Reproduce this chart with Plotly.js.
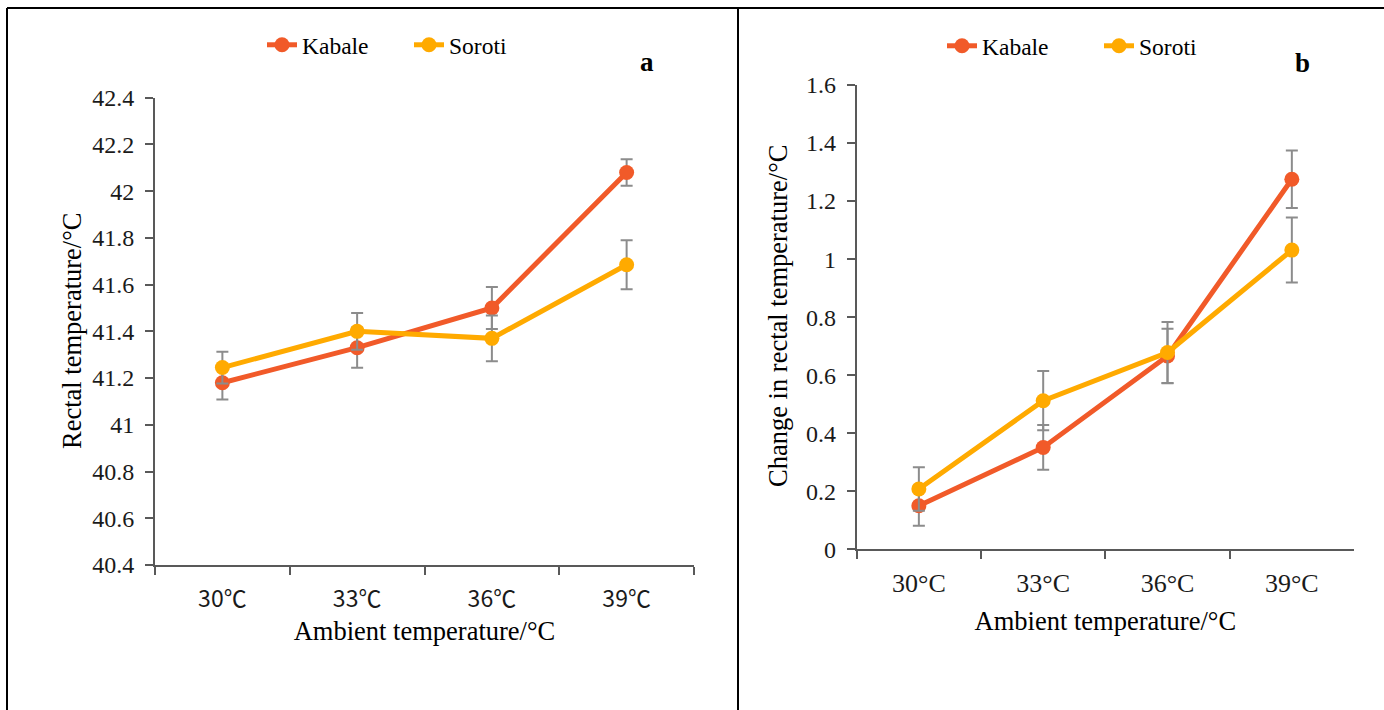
<!DOCTYPE html>
<html>
<head>
<meta charset="utf-8">
<script src="https://cdn.plot.ly/plotly-3.0.1.min.js"></script>
<style>html,body{margin:0;padding:0;background:#fff;}#chart{width:1384px;height:710px;}</style>
</head>
<body>
<div id="chart"></div>
<script>
// ---- data ----
const catsA = ['30℃', '33℃', '36℃', '39℃'];
const catsB = ['30°C', '33°C', '36°C', '39°C'];

const kabaleRectal = [41.18, 41.33, 41.50, 42.08];
const kabaleRectalErr = [0.072, 0.086, 0.090, 0.057];
const sorotiRectal = [41.245, 41.40, 41.37, 41.685];
const sorotiRectalErr = [0.068, 0.079, 0.098, 0.105];

const kabaleChange = [0.150, 0.351, 0.666, 1.275];
const kabaleChangeErr = [0.069, 0.077, 0.094, 0.099];
const sorotiChange = [0.208, 0.512, 0.678, 1.031];
const sorotiChangeErr = [0.075, 0.102, 0.105, 0.112];

const seriesNames = ['Kabale', 'Soroti'];
const yTitleA = 'Rectal temperature/°C';
const yTitleB = 'Change in rectal temperature/°C';
const xTitle = 'Ambient temperature/°C';

// ---- styles ----
const C_KAB = '#F15A29';
const C_SOR = '#FFAA00';
const SERIF = '"Liberation Serif", serif';
const SANS = '"Noto Sans CJK SC", sans-serif';
const AXC = '#595959';

function trace(x, y, err, name, color, xa, ya, legend) {
  return {
    type: 'scatter', mode: 'lines+markers', x: x, y: y, name: name,
    xaxis: xa, yaxis: ya, legend: legend,
    line: {color: color, width: 5},
    marker: {color: color, size: 15},
    error_y: {type: 'data', array: err, visible: true, color: '#8c8c8c', thickness: 2, width: 6}
  };
}

const data = [
  trace(catsA, kabaleRectal, kabaleRectalErr, seriesNames[0], C_KAB, 'x', 'y', 'legend'),
  trace(catsA, sorotiRectal, sorotiRectalErr, seriesNames[1], C_SOR, 'x', 'y', 'legend'),
  trace(catsB, kabaleChange, kabaleChangeErr, seriesNames[0], C_KAB, 'x2', 'y2', 'legend2'),
  trace(catsB, sorotiChange, sorotiChangeErr, seriesNames[1], C_SOR, 'x2', 'y2', 'legend2')
];

const W = 1384, H = 710;
function px(v) { return v / W; }
function py(v) { return 1 - v / H; }

const xBase = {
  type: 'category', range: [-0.5, 3.5], showline: true, linecolor: AXC, linewidth: 2,
  ticks: 'outside', tickson: 'boundaries', ticklen: 8, tickwidth: 2, tickcolor: AXC,
  showgrid: false, zeroline: false, fixedrange: true
};
const yBase = {
  showline: true, linecolor: AXC, linewidth: 2, ticks: 'outside', ticklen: 8, tickwidth: 2,
  tickcolor: AXC, showgrid: false, zeroline: false, fixedrange: true, ticklabelstandoff: 6,
  tickfont: {family: SERIF, size: 24, color: '#1a1a1a'}
};
const titleFont = {family: SERIF, size: 26.5, color: '#000'};

const frame = {type: 'line', xref: 'paper', yref: 'paper', line: {color: '#000', width: 2}};

const layout = {
  width: W, height: H,
  margin: {l: 0, r: 0, t: 0, b: 0},
  paper_bgcolor: '#fff', plot_bgcolor: 'rgba(0,0,0,0)',
  font: {family: SERIF, color: '#000'},
  showlegend: true,
  xaxis: Object.assign({}, xBase, {
    domain: [px(155), px(694)], anchor: 'y', ticklabelstandoff: 12,
    tickfont: {family: SANS, size: 23, color: '#1a1a1a'},
    title: {text: xTitle, font: titleFont, standoff: 9}
  }),
  yaxis: Object.assign({}, yBase, {
    domain: [py(565), py(97.7)], anchor: 'x', range: [40.4, 42.4], dtick: 0.2, tick0: 40.4
  }),
  xaxis2: Object.assign({}, xBase, {
    domain: [px(856.7), px(1354)], anchor: 'y2', ticklabelstandoff: 9,
    tickfont: {family: SERIF, size: 26, color: '#1a1a1a'},
    title: {text: xTitle, font: titleFont, standoff: 15}
  }),
  yaxis2: Object.assign({}, yBase, {
    domain: [py(549.3), py(85)], anchor: 'x2', range: [0, 1.6], dtick: 0.2, tick0: 0
  }),
  legend: {
    orientation: 'h', x: px(262), y: py(23), xanchor: 'left', yanchor: 'top',
    entrywidth: 102, entrywidthmode: 'pixels',
    font: {family: SERIF, size: 23.5, color: '#000'}, bgcolor: 'rgba(0,0,0,0)', itemclick: false
  },
  legend2: {
    orientation: 'h', x: px(942), y: py(24), xanchor: 'left', yanchor: 'top',
    entrywidth: 112, entrywidthmode: 'pixels',
    font: {family: SERIF, size: 23.5, color: '#000'}, bgcolor: 'rgba(0,0,0,0)', itemclick: false
  },
  annotations: [
    {text: yTitleA, xref: 'paper', yref: 'paper', x: px(72), y: py(331), textangle: -90,
     showarrow: false, xanchor: 'center', yanchor: 'middle', font: titleFont},
    {text: yTitleB, xref: 'paper', yref: 'paper', x: px(778), y: py(316), textangle: -90,
     showarrow: false, xanchor: 'center', yanchor: 'middle', font: titleFont},
    {text: '<b>a</b>', xref: 'paper', yref: 'paper', x: px(647), y: py(62), showarrow: false,
     xanchor: 'center', yanchor: 'middle', font: {family: SERIF, size: 27, color: '#000'}},
    {text: '<b>b</b>', xref: 'paper', yref: 'paper', x: px(1302), y: py(63), showarrow: false,
     xanchor: 'center', yanchor: 'middle', font: {family: SERIF, size: 27, color: '#000'}}
  ],
  shapes: [
    Object.assign({}, frame, {x0: px(7), x1: 1, y0: py(8), y1: py(8)}),
    Object.assign({}, frame, {x0: px(7), x1: px(7), y0: py(8), y1: 0}),
    Object.assign({}, frame, {x0: px(738), x1: px(738), y0: py(8), y1: 0})
  ]
};

Plotly.newPlot('chart', data, layout, {displayModeBar: false, staticPlot: true});
</script>
</body>
</html>
